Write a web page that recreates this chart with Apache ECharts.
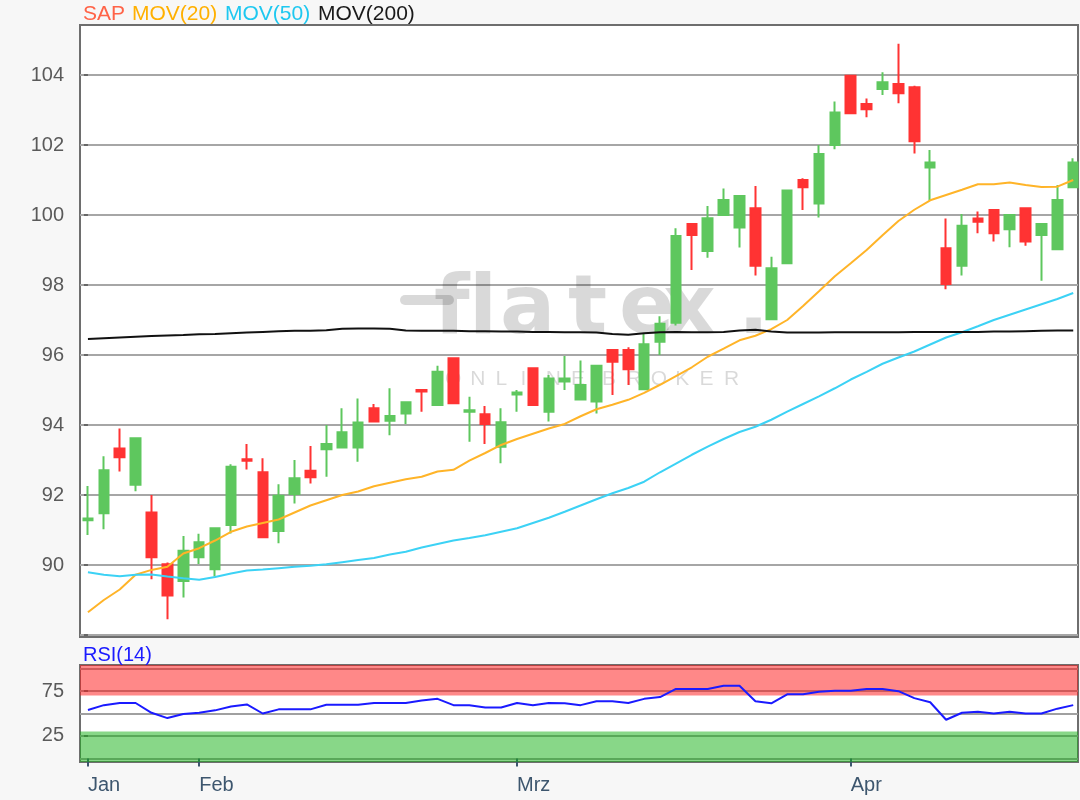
<!DOCTYPE html>
<html>
<head>
<meta charset="utf-8">
<script src="https://cdn.jsdelivr.net/npm/echarts@6/dist/echarts.min.js"></script>
<style>
  html, body { margin: 0; padding: 0; background: #f7f7f7; }
  #c { width: 1080px; height: 800px; }
</style>
</head>
<body>
<div id="c"></div>
<script>
// ---------- data ----------
const monthTickIdx = [0, 7, 27, 48];
const monthLabels = ['Jan', 'Feb', 'Mrz', 'Apr'];
const priceTicks = [88, 90, 92, 94, 96, 98, 100, 102, 104];
const priceLabels = [90, 92, 94, 96, 98, 100, 102, 104];
const rsiGridLines = [0, 25, 50, 75, 100];
const rsiLabels = [25, 75];
const rsiUpper = 70;
const rsiLower = 30;

const opens = [91.28, 91.48, 93.33, 92.29, 91.50, 90.02, 89.54, 90.22, 89.88, 91.14,
  93.02, 92.65, 90.97, 92.03, 92.69, 93.31, 93.36, 93.36, 94.48, 94.12,
  94.33, 95.00, 94.57, 95.91, 94.38, 94.31, 93.38, 94.87, 95.62, 94.38,
  95.24, 94.73, 94.67, 96.14, 96.14, 95.02, 96.38, 96.92, 99.74, 98.97,
  100.00, 99.64, 100.19, 97.02, 98.62, 101.00, 100.33, 102.00, 103.98, 103.17,
  103.60, 103.74, 103.65, 101.36, 99.05, 98.55, 99.90, 100.14, 99.59, 100.19,
  99.43, 99.02, 100.79];
const closes = [91.33, 92.71, 93.08, 93.62, 90.22, 89.13, 90.41, 90.65, 91.05, 92.81,
  92.98, 90.79, 91.98, 92.48, 92.51, 93.46, 93.79, 94.07, 94.10, 94.26,
  94.65, 94.96, 95.52, 94.62, 94.42, 94.03, 94.08, 94.93, 94.57, 95.33,
  95.33, 95.14, 95.69, 95.81, 95.59, 96.31, 96.89, 99.40, 99.43, 99.91,
  100.43, 100.54, 98.55, 98.48, 100.70, 100.79, 101.74, 102.93, 102.91, 103.02,
  103.79, 103.48, 102.11, 101.50, 98.03, 99.69, 99.81, 99.48, 100.00, 99.24,
  99.74, 100.43, 101.50];
const lows = [90.86, 91.02, 92.67, 92.11, 89.59, 88.45, 89.07, 90.03, 89.67, 90.90,
  92.73, 90.77, 90.62, 91.76, 92.33, 92.52, 93.34, 92.95, 94.08, 93.71,
  94.03, 94.38, 94.55, 94.60, 93.52, 93.46, 92.91, 94.38, 94.55, 94.10,
  95.00, 94.73, 94.33, 94.86, 95.14, 95.00, 96.00, 96.84, 98.43, 98.78,
  99.98, 99.07, 98.27, 97.00, 98.60, 100.14, 99.93, 101.88, 102.90, 102.79,
  103.43, 103.19, 101.76, 100.41, 97.88, 98.27, 99.48, 99.24, 99.08, 99.12,
  98.12, 99.00, 100.77];
const highs = [92.26, 93.11, 93.90, 93.65, 92.00, 90.07, 90.83, 90.89, 91.07, 92.88,
  93.46, 93.05, 92.31, 93.00, 93.40, 94.00, 94.48, 94.76, 94.60, 95.05,
  94.67, 95.02, 95.69, 95.93, 94.81, 94.54, 94.48, 95.00, 95.64, 95.43,
  95.97, 95.84, 95.71, 96.16, 96.22, 96.62, 97.11, 99.62, 99.76, 100.26,
  100.76, 100.56, 100.83, 98.81, 100.72, 101.05, 102.00, 103.24, 104.00, 103.33,
  104.08, 104.89, 103.69, 101.86, 99.90, 100.03, 100.10, 100.16, 100.02, 100.21,
  99.76, 100.86, 101.62];

const ma20 = [88.65, 89.00, 89.30, 89.72, 89.86, 89.95, 90.33, 90.48, 90.70, 90.95,
  91.10, 91.20, 91.30, 91.50, 91.70, 91.85, 92.00, 92.10, 92.25, 92.35,
  92.45, 92.52, 92.67, 92.72, 92.98, 93.20, 93.43, 93.60, 93.75, 93.90,
  94.03, 94.25, 94.45, 94.58, 94.72, 94.92, 95.15, 95.40, 95.65, 95.95,
  96.18, 96.42, 96.55, 96.74, 97.00, 97.40, 97.82, 98.25, 98.62, 99.00,
  99.42, 99.83, 100.15, 100.42, 100.57, 100.72, 100.88, 100.88, 100.93, 100.86,
  100.80, 100.81, 101.00];
const ma50 = [89.79, 89.72, 89.68, 89.72, 89.73, 89.67, 89.62, 89.58, 89.66, 89.76,
  89.84, 89.87, 89.91, 89.95, 89.98, 90.02, 90.08, 90.14, 90.20, 90.30,
  90.38, 90.50, 90.60, 90.70, 90.77, 90.85, 90.95, 91.05, 91.20, 91.35,
  91.52, 91.70, 91.88, 92.05, 92.20, 92.38, 92.65, 92.90, 93.15, 93.38,
  93.60, 93.80, 93.95, 94.15, 94.38, 94.60, 94.82, 95.05, 95.30, 95.52,
  95.75, 95.93, 96.10, 96.30, 96.50, 96.65, 96.82, 97.00, 97.15, 97.30,
  97.45, 97.60, 97.77];
const ma200 = [96.46, 96.48, 96.50, 96.52, 96.54, 96.56, 96.57, 96.59, 96.60, 96.62,
  96.64, 96.66, 96.68, 96.69, 96.69, 96.71, 96.75, 96.76, 96.76, 96.75,
  96.70, 96.69, 96.69, 96.69, 96.68, 96.68, 96.67, 96.67, 96.66, 96.66,
  96.65, 96.65, 96.64, 96.60, 96.58, 96.62, 96.65, 96.66, 96.65, 96.65,
  96.66, 96.70, 96.72, 96.67, 96.64, 96.64, 96.64, 96.65, 96.65, 96.65,
  96.65, 96.65, 96.66, 96.66, 96.66, 96.66, 96.66, 96.67, 96.67, 96.68,
  96.69, 96.70, 96.70];
const rsi14 = [53.9, 59.3, 61.7, 61.7, 50.8, 44.9, 49.5, 50.8, 53.5, 57.8,
  60.1, 50.0, 54.6, 54.6, 54.6, 59.7, 59.7, 59.7, 61.7, 61.7,
  61.7, 64.4, 66.3, 59.3, 59.3, 56.6, 56.6, 61.7, 59.3, 61.7,
  61.3, 59.3, 63.6, 63.6, 61.7, 66.3, 68.3, 77.3, 77.3, 77.3,
  80.8, 80.8, 63.6, 61.3, 71.4, 71.4, 74.1, 75.3, 75.3, 77.3,
  77.3, 74.9, 67.1, 62.5, 43.0, 50.8, 51.9, 50.0, 51.9, 50.0,
  50.0, 55.4, 59.3];

// ---------- styling ----------
const FONT = '"Liberation Sans", Arial, sans-serif';
const UP = '#5ec75e';
const DOWN = '#ff3333';
const C_MA20 = '#ffb428';
const C_MA50 = '#3cd2f5';
const C_MA200 = '#111111';
const C_RSI = '#1a1aff';
const WM = 'rgba(0,0,0,0.15)';

const candleData = opens.map((o, i) => [i, o, closes[i], lows[i], highs[i]]);
const pair = arr => arr.map((v, i) => [i, v]);

const xMin = -0.5, xMax = 62.3;

// watermark (decoration)
const wmGraphics = [
  { type: 'rect', shape: { x: 400, y: 295, width: 54, height: 10, r: 5 }, style: { fill: WM }, z: 1, silent: true }
];
[['f', 434], ['l', 469], ['a', 500], ['t', 568], ['e', 619], ['x', 663], ['.', 738]].forEach(([ch, x]) => {
  wmGraphics.push({ type: 'text', x: x, y: 312, z: 1, silent: true,
    style: { text: ch, fill: WM, font: 'bold 82px "DejaVu Sans", sans-serif', align: 'left', verticalAlign: 'middle' } });
});
'ONLINE'.split('').forEach((ch, k) => {
  wmGraphics.push({ type: 'text', x: 445 + k * 25.2, y: 379, z: 1, silent: true,
    style: { text: ch, fill: WM, font: '21px ' + FONT, align: 'left', verticalAlign: 'middle' } });
});
'BROKER'.split('').forEach((ch, k) => {
  wmGraphics.push({ type: 'text', x: 602 + k * 24.4, y: 379, z: 1, silent: true,
    style: { text: ch, fill: WM, font: '21px ' + FONT, align: 'left', verticalAlign: 'middle' } });
});

const legendItems = [
  ['SAP', '#ff6347', 83],
  ['MOV(20)', '#ffb000', 132],
  ['MOV(50)', '#1ec8f0', 225],
  ['MOV(200)', '#1a1a1a', 318]
];
const legendGraphics = legendItems.map(([t, c, x]) => ({
  type: 'text', x: x, y: 14.5, z: 10,
  style: { text: t, fill: c, font: '21px ' + FONT, align: 'left', verticalAlign: 'middle' }
}));
legendGraphics.push({
  type: 'text', x: 83, y: 655, z: 10,
  style: { text: 'RSI(14)', fill: '#1a1aff', font: '20px ' + FONT, align: 'left', verticalAlign: 'middle' }
});

const chart = echarts.init(document.getElementById('c'));
const option = {
  animation: false,
  backgroundColor: '#f7f7f7',
  textStyle: { fontFamily: FONT },
  graphic: { elements: wmGraphics.concat(legendGraphics) },
  grid: [
    { left: 80, top: 25, width: 998, height: 612, show: true, backgroundColor: '#ffffff', borderColor: '#6e6e6e', borderWidth: 2 },
    { left: 80, top: 665, width: 998, height: 97, show: true, backgroundColor: '#ffffff', borderColor: '#6e6e6e', borderWidth: 2 }
  ],
  xAxis: [
    { type: 'value', gridIndex: 0, min: xMin, max: xMax, show: false },
    { type: 'value', gridIndex: 1, min: xMin, max: xMax,
      axisLine: { show: false },
      splitLine: { show: false },
      axisTick: { show: true, customValues: monthTickIdx, length: 8, lineStyle: { color: '#3d566e', width: 2 } },
      axisLabel: { customValues: monthTickIdx, align: 'left', margin: 13, color: '#3d566e', fontSize: 20, fontFamily: FONT,
        formatter: v => monthLabels[monthTickIdx.indexOf(Math.round(v))] || '' } }
  ],
  yAxis: [
    { type: 'value', gridIndex: 0, min: 87.943, max: 105.4286,
      axisLine: { show: false },
      axisTick: { show: true, customValues: priceTicks, length: 4, lineStyle: { color: '#666', width: 2 } },
      axisLabel: { customValues: priceLabels, margin: 16, color: '#5a5a5a', fontSize: 20, fontFamily: FONT },
      splitLine: { show: true, lineStyle: { color: '#a6a6a6', width: 2 } } },
    { type: 'value', gridIndex: 1, min: -4, max: 104,
      axisLine: { show: false },
      axisTick: { show: true, customValues: rsiLabels, length: 4, lineStyle: { color: '#666', width: 2 } },
      axisLabel: { customValues: rsiLabels, margin: 16, color: '#5a5a5a', fontSize: 20, fontFamily: FONT },
      splitLine: { show: false } },
    { type: 'value', gridIndex: 1, min: -4, max: 104,
      axisLine: { show: false },
      axisTick: { show: false, customValues: rsiGridLines },
      axisLabel: { show: false },
      splitLine: { show: true, lineStyle: { color: '#a0a0a0', width: 2 } } }
  ],
  series: [
    { type: 'candlestick', name: 'SAP', xAxisIndex: 0, yAxisIndex: 0, z: 2,
      data: candleData, encode: { x: 0, y: [1, 2, 3, 4] },
      barWidth: 10,
      itemStyle: { color: UP, color0: DOWN, borderColor: UP, borderColor0: DOWN, borderWidth: 2 } },
    { type: 'line', name: 'MOV(20)', xAxisIndex: 0, yAxisIndex: 0, z: 3, data: pair(ma20),
      symbol: 'none', lineStyle: { color: C_MA20, width: 2 } },
    { type: 'line', name: 'MOV(50)', xAxisIndex: 0, yAxisIndex: 0, z: 3, data: pair(ma50),
      symbol: 'none', lineStyle: { color: C_MA50, width: 2 } },
    { type: 'line', name: 'MOV(200)', xAxisIndex: 0, yAxisIndex: 0, z: 3, data: pair(ma200),
      symbol: 'none', lineStyle: { color: C_MA200, width: 2 } },
    { type: 'line', name: 'RSI(14)', xAxisIndex: 1, yAxisIndex: 1, z: 3, data: pair(rsi14),
      symbol: 'none', lineStyle: { color: C_RSI, width: 2 },
      markArea: { silent: true,
        data: [
          [{ yAxis: rsiUpper, itemStyle: { color: 'rgba(255,17,17,0.5)' } }, { yAxis: 104 }],
          [{ yAxis: -4, itemStyle: { color: 'rgba(17,176,17,0.5)' } }, { yAxis: rsiLower }]
        ] } }
  ]
};
chart.setOption(option);
</script>
</body>
</html>
